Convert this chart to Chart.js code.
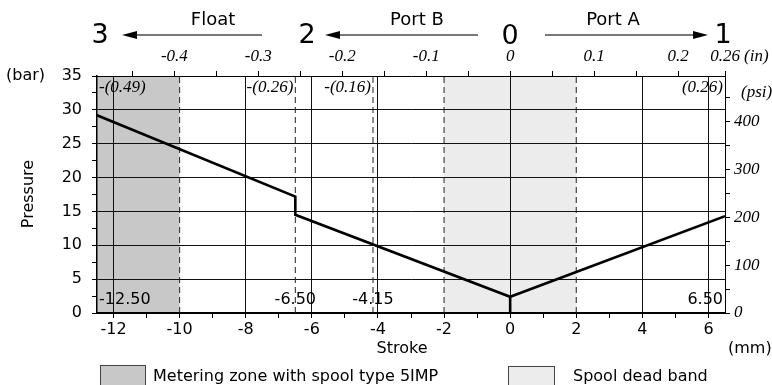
<!DOCTYPE html>
<html>
<head>
<meta charset="utf-8">
<script src="https://cdn.jsdelivr.net/npm/chart.js@4.4.1/dist/chart.umd.min.js"></script>
<style>
  html, body { margin: 0; padding: 0; background: #fff; }
  canvas { display: block; }
</style>
</head>
<body>
<canvas id="strokeChart" width="772" height="385"></canvas>

<script>
// pressure curve (stroke in mm, pressure in bar)
const strokeMm = [-12.5, -6.5, -6.5, 0, 6.5];
const pressureBar = [29.2, 17.2, 14.5, 2.4, 14.3];
// short vertical stem at neutral
const stemMm = [0, 0];
const stemBar = [0, 2.4];

// shaded zones
const meteringZone = [-12.5, -10];
const deadBand = [-2, 2];

// dashed marker lines
const markerMm = [-10, -6.5, -4.15, -2, 2];

// notes written inside the plot
const noteMm = [-12.5, -6.5, -4.15, 6.5];
const noteMmText = ['-12.50', '-6.50', '-4.15', '6.50'];
const noteInText = ['-(0.49)', '-(0.26)', '-(0.16)', '(0.26)'];

// axis ticks
const mmTicks = [-12, -11, -10, -9, -8, -7, -6, -5, -4, -3, -2, -1, 0, 1, 2, 3, 4, 5, 6];
const mmLabelled = [-12, -10, -8, -6, -4, -2, 0, 2, 4, 6];
const mmSolidGrid = [-12, -8, -6, -4, 0, 4, 6];
const barTicks = [0, 2.5, 5, 7.5, 10, 12.5, 15, 17.5, 20, 22.5, 25, 27.5, 30, 32.5, 35];
const inchTicks = [-0.45, -0.4, -0.35, -0.3, -0.25, -0.2, -0.15, -0.1, -0.05, 0, 0.05, 0.1, 0.15, 0.2, 0.256];
const inchLabels = ['', '-0.4', '', '-0.3', '', '-0.2', '', '-0.1', '', '0', '', '0.1', '', '0.2', '0.26'];
const psiTicks = [0, 50, 100, 150, 200, 250, 300, 350, 400, 450];
const psiMax = 495;

const SANS = "'DejaVu Sans', sans-serif";
const SERIF = "'Liberation Serif', serif";

function text(ctx, str, x, y, font, align, baseline) {
    ctx.font = font;
    ctx.textAlign = align || 'center';
    ctx.textBaseline = baseline || 'middle';
    ctx.fillText(str, x, y);
}

function arrow(ctx, x1, x2, y) {
    const dir = x2 > x1 ? 1 : -1;
    ctx.strokeStyle = '#777';
    ctx.lineWidth = 2;
    ctx.beginPath();
    ctx.moveTo(x1, y);
    ctx.lineTo(x2 - dir * 10, y);
    ctx.stroke();
    ctx.fillStyle = '#000';
    ctx.beginPath();
    ctx.moveTo(x2, y);
    ctx.lineTo(x2 - dir * 15, y - 4);
    ctx.lineTo(x2 - dir * 15, y + 4);
    ctx.closePath();
    ctx.fill();
}

const decor = {
    id: 'decor',
    beforeDraw(chart) {
        const ctx = chart.ctx;
        const x = chart.scales.x, y = chart.scales.y;
        ctx.save();
        const zones = [[meteringZone, '#c8c8c8'], [deadBand, '#ececec']];
        zones.forEach(([z, col]) => {
            const l = x.getPixelForValue(z[0]), r = x.getPixelForValue(z[1]);
            const t = y.getPixelForValue(35), b = y.getPixelForValue(0);
            ctx.fillStyle = col;
            ctx.fillRect(l, t, r - l, b - t);
        });
        ctx.restore();
    },
    afterDraw(chart) {
        const ctx = chart.ctx;
        const x = chart.scales.x;
        ctx.save();
        ctx.fillStyle = '#000';

        // notes inside the plot
        const mmAlign = ['left', 'center', 'center', 'right'];
        const inAlign = ['left', 'right', 'right', 'right'];
        noteMm.forEach((v, i) => {
            let px = x.getPixelForValue(v);
            const pxIn = px + (inAlign[i] === 'left' ? 2 : -2);
            const pxMm = px + (mmAlign[i] === 'left' ? 2 : mmAlign[i] === 'right' ? -2 : 0);
            ctx.fillStyle = '#000';
            text(ctx, noteInText[i], pxIn, 88, 'italic 17px ' + SERIF, inAlign[i]);
            text(ctx, noteMmText[i], pxMm, 300, '16px ' + SANS, mmAlign[i]);
        });

        // axis captions
        ctx.fillStyle = '#000';
        text(ctx, '(bar)', 6, 76, '16px ' + SANS, 'left');
        text(ctx, '(psi)', 741, 93, 'italic 17px ' + SERIF, 'left');
        text(ctx, '(in)', 744, 57, 'italic 17px ' + SERIF, 'left');
        text(ctx, 'Stroke', 402, 349, '16px ' + SANS, 'center');
        text(ctx, '(mm)', 728, 349, '16px ' + SANS, 'left');
        ctx.save();
        ctx.translate(29, 194);
        ctx.rotate(-Math.PI / 2);
        text(ctx, 'Pressure', 0, 0, '16px ' + SANS, 'center');
        ctx.restore();

        // header: ports and arrows
        ctx.fillStyle = '#000';
        text(ctx, '3', 100, 36, '27px ' + SANS, 'center');
        text(ctx, '2', 307, 36, '27px ' + SANS, 'center');
        text(ctx, '0', 510, 37, '27px ' + SANS, 'center');
        text(ctx, '1', 723, 36, '27px ' + SANS, 'center');
        text(ctx, 'Float', 213, 20, '18px ' + SANS, 'center');
        text(ctx, 'Port B', 417, 20, '18px ' + SANS, 'center');
        text(ctx, 'Port A', 613, 20, '18px ' + SANS, 'center');
        arrow(ctx, 262, 122, 35);
        arrow(ctx, 478, 325, 35);
        arrow(ctx, 545, 708, 35);

        // legend
        ctx.lineWidth = 1;
        ctx.strokeStyle = '#444';
        ctx.fillStyle = '#c8c8c8';
        ctx.fillRect(100.5, 365.5, 45, 25);
        ctx.strokeRect(100.5, 365.5, 45, 25);
        ctx.fillStyle = '#ececec';
        ctx.fillRect(508.5, 366.5, 46, 25);
        ctx.strokeRect(508.5, 366.5, 46, 25);
        ctx.fillStyle = '#000';
        text(ctx, 'Metering zone with spool type 5IMP', 153, 377, '16px ' + SANS, 'left');
        text(ctx, 'Spool dead band', 573, 377, '16px ' + SANS, 'left');
        ctx.restore();
    }
};

const datasets = [
    {
        data: strokeMm.map((v, i) => ({x: v, y: pressureBar[i]})),
        borderColor: '#000',
        borderWidth: 2.6,
        showLine: true,
        pointRadius: 0
    },
    {
        data: stemMm.map((v, i) => ({x: v, y: stemBar[i]})),
        borderColor: '#000',
        borderWidth: 2.6,
        showLine: true,
        pointRadius: 0
    }
].concat(markerMm.map(v => ({
    data: [{x: v, y: 0}, {x: v, y: 35}],
    borderColor: '#222',
    borderWidth: 1,
    borderDash: [6, 4],
    showLine: true,
    pointRadius: 0
})));

const ctx = document.getElementById('strokeChart').getContext('2d');
new Chart(ctx, {
    type: 'scatter',
    data: { datasets: datasets },
    options: {
        responsive: false,
        animation: false,
        devicePixelRatio: 1,
        layout: { padding: 0 },
        plugins: {
            legend: { display: false },
            tooltip: { enabled: false }
        },
        scales: {
            x: {
                type: 'linear',
                position: 'bottom',
                min: -12.5,
                max: 6.5,
                afterBuildTicks: axis => { axis.ticks = mmTicks.map(v => ({value: v})); },
                afterFit: axis => { axis.height = 72; },
                grid: {
                    color: c => (c.tick && mmSolidGrid.includes(c.tick.value)) ? '#111' : 'rgba(0,0,0,0)',
                    tickColor: '#000',
                    tickLength: 5,
                    lineWidth: 1
                },
                border: { color: '#000', width: 2 },
                ticks: {
                    autoSkip: false,
                    maxRotation: 0,
                    padding: 2,
                    color: '#000',
                    font: { family: SANS, size: 16 },
                    callback: v => mmLabelled.includes(v) ? String(v) : ''
                }
            },
            x2: {
                type: 'linear',
                position: 'top',
                min: -12.5 / 25.4,
                max: 6.5 / 25.4,
                afterBuildTicks: axis => { axis.ticks = inchTicks.map(v => ({value: v})); },
                afterFit: axis => { axis.height = 76; },
                grid: { drawOnChartArea: false, tickColor: '#000', tickLength: 5 },
                border: { color: '#000', width: 1 },
                ticks: {
                    autoSkip: false,
                    maxRotation: 0,
                    padding: 4,
                    color: '#000',
                    font: { family: SERIF, size: 17, style: 'italic' },
                    callback: (v, i) => inchLabels[i]
                }
            },
            y: {
                type: 'linear',
                position: 'left',
                min: 0,
                max: 35,
                afterBuildTicks: axis => { axis.ticks = barTicks.map(v => ({value: v})); },
                afterFit: axis => { axis.width = 97; },
                grid: {
                    color: c => (c.tick && c.tick.value % 5 === 0 && c.tick.value > 0 && c.tick.value < 35) ? '#111' : 'rgba(0,0,0,0)',
                    tickColor: '#000',
                    tickLength: 5,
                    lineWidth: 1
                },
                border: { color: '#000', width: 1.5 },
                ticks: {
                    autoSkip: false,
                    padding: 10,
                    color: '#000',
                    font: { family: SANS, size: 16 },
                    callback: v => v % 5 === 0 ? String(v) : ''
                }
            },
            y2: {
                type: 'linear',
                position: 'right',
                min: 0,
                max: psiMax,
                afterBuildTicks: axis => { axis.ticks = psiTicks.map(v => ({value: v})); },
                afterFit: axis => { axis.width = 47; },
                grid: { drawOnChartArea: false, tickColor: '#000', tickLength: 5 },
                border: { color: '#000', width: 1 },
                ticks: {
                    autoSkip: false,
                    padding: 4,
                    color: '#000',
                    font: { family: SERIF, size: 17, style: 'italic' },
                    callback: v => v % 100 === 0 ? String(v) : ''
                }
            }
        }
    },
    plugins: [decor]
});
</script>
</body>
</html>
